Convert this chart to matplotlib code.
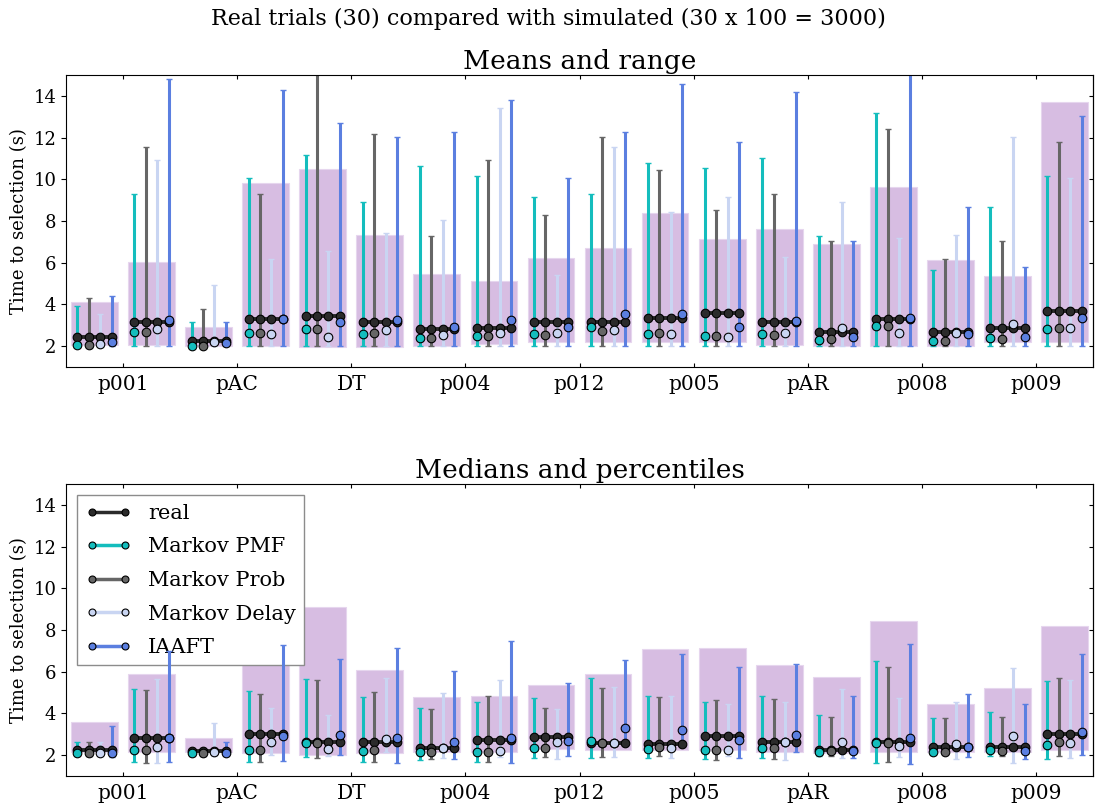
import matplotlib
matplotlib.use("Agg")
import matplotlib.pyplot as plt
from matplotlib.lines import Line2D
import numpy as np

plt.rcParams["font.family"] = ["DejaVu Serif"]

PARTICIPANTS = ["p001", "pAC", "DT", "p004", "p012", "p005", "pAR", "p008", "p009"]

# group order: participant x (left condition, right condition)
# --- means and range ---
mean_real = [2.42, 3.14, 2.26, 3.28, 3.44, 3.17, 2.82, 2.86, 3.14, 3.14, 3.36, 3.57, 3.14, 2.66, 3.31, 2.66, 2.88, 3.68]
mean_real_lo = [2.05, 2.05, 2.03, 2.03, 1.97, 1.97, 2.03, 2.10, 2.18, 2.21, 2.21, 2.21, 2.05, 2.00, 2.03, 2.00, 2.21, 2.21]
mean_real_hi = [4.13, 6.05, 2.93, 9.81, 10.50, 7.31, 5.44, 5.12, 6.24, 6.69, 8.37, 7.12, 7.62, 6.88, 9.63, 6.13, 5.36, 13.70]

mean_pmf = [2.06, 2.67, 2.03, 2.61, 2.83, 2.58, 2.40, 2.50, 2.58, 2.90, 2.56, 2.50, 2.58, 2.29, 2.98, 2.24, 2.40, 2.80]
mean_pmf_lo = [2.0, 2.0, 2.0, 2.0, 2.0, 2.0, 2.0, 2.0, 2.0, 2.0, 2.0, 2.0, 2.0, 2.0, 2.0, 2.0, 2.0, 2.0]
mean_pmf_hi = [3.92, 9.30, 3.15, 10.05, 11.17, 8.91, 10.66, 10.16, 9.17, 9.30, 10.80, 10.53, 11.04, 7.30, 13.17, 5.66, 8.67, 10.16]

mean_prob = [2.05, 2.69, 2.03, 2.61, 2.83, 2.64, 2.37, 2.50, 2.53, 2.72, 2.61, 2.51, 2.53, 2.32, 2.99, 2.24, 2.34, 2.85]
mean_prob_lo = [2.0, 2.0, 2.0, 2.0, 2.0, 2.0, 2.0, 2.0, 2.0, 2.0, 2.0, 2.0, 2.0, 2.0, 2.0, 2.0, 2.0, 2.0]
mean_prob_hi = [4.29, 11.55, 3.79, 9.30, 15.50, 12.18, 7.30, 10.93, 8.29, 12.05, 10.45, 8.53, 9.30, 7.04, 12.43, 6.16, 7.04, 11.81]

mean_delay = [2.10, 2.82, 2.21, 2.58, 2.42, 2.77, 2.53, 2.61, 2.61, 2.77, 2.56, 2.45, 2.61, 2.85, 2.61, 2.62, 3.06, 2.85]
mean_delay_lo = [2.0, 2.0, 2.0, 2.0, 2.0, 2.0, 2.0, 2.0, 2.0, 2.0, 2.0, 2.0, 2.0, 2.0, 2.0, 2.0, 2.0, 2.0]
mean_delay_hi = [3.54, 10.93, 4.91, 6.16, 6.54, 7.41, 8.03, 13.42, 5.42, 11.54, 8.42, 9.17, 6.29, 8.91, 7.17, 7.31, 12.05, 10.05]

mean_iaaft = [2.19, 3.25, 2.13, 3.28, 3.15, 3.25, 2.91, 3.26, 2.90, 3.52, 3.52, 2.93, 3.23, 2.42, 3.33, 2.56, 2.43, 3.36]
mean_iaaft_lo = [2.0, 2.0, 2.0, 2.0, 2.0, 2.0, 2.0, 2.0, 2.0, 2.0, 2.0, 2.0, 2.0, 2.0, 2.0, 2.0, 2.0, 2.0]
mean_iaaft_hi = [4.42, 14.80, 3.15, 14.29, 12.69, 12.05, 12.29, 13.81, 10.05, 12.29, 14.56, 11.79, 14.18, 7.04, 15.30, 8.67, 5.78, 13.06]

# --- medians and percentiles ---
med_real = [2.26, 2.83, 2.21, 3.00, 2.61, 2.64, 2.32, 2.72, 2.88, 2.56, 2.53, 2.93, 2.64, 2.24, 2.65, 2.37, 2.37, 3.01]
med_real_lo = [2.16, 2.16, 2.13, 2.10, 2.03, 2.10, 2.16, 2.16, 2.29, 2.26, 2.26, 2.26, 2.13, 2.10, 2.13, 2.13, 2.13, 2.26]
med_real_hi = [3.57, 5.87, 2.80, 6.36, 9.12, 6.07, 4.78, 4.83, 5.37, 5.90, 7.08, 7.14, 6.33, 5.77, 8.42, 4.43, 5.23, 8.17]

med_pmf = [2.08, 2.26, 2.08, 2.26, 2.56, 2.21, 2.13, 2.13, 2.35, 2.67, 2.29, 2.24, 2.32, 2.16, 2.56, 2.16, 2.26, 2.51]
med_pmf_lo = [1.97, 1.65, 1.95, 1.65, 1.89, 1.68, 1.78, 1.68, 1.84, 1.84, 1.84, 1.81, 1.84, 1.94, 1.62, 2.00, 1.97, 1.81]
med_pmf_hi = [2.65, 5.16, 2.25, 5.07, 5.64, 4.81, 4.28, 4.57, 4.72, 5.72, 4.84, 4.57, 4.84, 3.93, 6.50, 3.76, 4.09, 5.56]

med_prob = [2.08, 2.26, 2.08, 2.26, 2.58, 2.24, 2.13, 2.13, 2.35, 2.56, 2.40, 2.24, 2.32, 2.21, 2.56, 2.16, 2.21, 2.61]
med_prob_lo = [1.97, 1.62, 1.95, 1.68, 1.84, 1.65, 1.81, 1.68, 1.92, 1.89, 1.94, 1.78, 1.81, 1.94, 1.65, 2.05, 1.97, 1.94]
med_prob_hi = [2.65, 5.13, 2.25, 4.94, 5.61, 5.05, 4.20, 4.83, 4.27, 5.24, 4.78, 4.65, 4.68, 3.85, 6.25, 3.76, 3.84, 5.69]

med_delay = [2.08, 2.38, 2.13, 2.61, 2.29, 2.77, 2.35, 2.19, 2.64, 2.58, 2.35, 2.24, 2.61, 2.65, 2.45, 2.53, 2.93, 2.58]
med_delay_lo = [1.97, 1.60, 1.94, 2.00, 1.94, 2.13, 1.84, 1.89, 1.81, 1.89, 1.87, 1.97, 1.78, 1.84, 1.92, 1.81, 1.60, 1.87]
med_delay_hi = [2.61, 5.63, 3.52, 4.24, 3.93, 5.72, 4.97, 5.58, 4.20, 5.27, 4.84, 4.43, 4.56, 5.19, 4.76, 4.57, 6.20, 5.61]

med_iaaft = [2.08, 2.83, 2.08, 2.93, 2.96, 2.80, 2.61, 2.80, 2.69, 3.28, 3.21, 2.72, 2.99, 2.21, 2.81, 2.37, 2.21, 3.12]
med_iaaft_lo = [1.89, 1.65, 1.94, 1.73, 2.00, 1.62, 1.81, 1.60, 1.94, 2.50, 2.53, 1.84, 2.13, 1.84, 1.57, 1.92, 1.81, 2.00]
med_iaaft_hi = [3.41, 7.00, 2.64, 7.27, 6.63, 7.13, 6.04, 7.46, 5.45, 6.55, 6.87, 6.23, 6.39, 4.83, 7.34, 4.92, 4.43, 6.87]

SIM_NAMES = ["Markov PMF", "Markov Prob", "Markov Delay", "IAAFT"]
SIM_COLORS = ["#14bdbd", "#666666", "#c9d5f2", "#5b7fe0"]
REAL_COLOR = "#2b2b2b"
BAR_COLOR = "#d7bde2"


def teken_paneel(ax, real, real_lo, real_hi, sims, titel):
    gx = []
    for i in range(len(PARTICIPANTS)):
        gx += [i - 0.25, i + 0.25]
    gx = np.array(gx)
    offs = [-0.15, -0.05, 0.05, 0.15]

    real_lo = np.array(real_lo)
    ax.bar(gx, np.array(real_hi) - real_lo, bottom=real_lo, width=0.41,
           color=BAR_COLOR, edgecolor="#e6d6ee", linewidth=0.8, zorder=1)

    for (c, lo, hi), kleur, off in zip(sims, SIM_COLORS, offs):
        c, lo, hi = np.array(c), np.array(lo), np.array(hi)
        ax.errorbar(gx + off, c, yerr=[c - lo, hi - c], fmt="none", ecolor=kleur,
                    elinewidth=2.2, capsize=2.5, capthick=1.0, zorder=2)

    for x, v in zip(gx, real):
        xs = x + np.array(offs)
        ax.plot(xs, [v] * 4, color=REAL_COLOR, lw=2.8, marker="o", ms=6.2,
                mfc=REAL_COLOR, mec="black", mew=0.8, zorder=3)

    for (c, lo, hi), kleur, off in zip(sims, SIM_COLORS, offs):
        ax.plot(gx + off, c, "o", ms=6.2, mfc=kleur, mec="black", mew=0.8,
                linestyle="none", zorder=4)

    ax.set_xlim(-0.5, len(PARTICIPANTS) - 0.5)
    ax.set_ylim(1, 15)
    ax.set_xticks(np.arange(len(PARTICIPANTS)))
    ax.set_xticklabels(PARTICIPANTS, fontsize=14.5)
    ax.set_yticks([2, 4, 6, 8, 10, 12, 14])
    ax.tick_params(axis="y", direction="out", length=3.5, labelsize=13, right=False)
    ax.tick_params(axis="x", direction="in", length=3, top=True, pad=6)
    rechts = ax.secondary_yaxis("right")
    rechts.set_yticks([2, 4, 6, 8, 10, 12, 14])
    rechts.tick_params(direction="in", length=3, labelright=False)
    ax.set_ylabel("Time to selection (s)", fontsize=13)
    ax.set_title(titel, fontsize=19, pad=4)


fig = plt.figure(figsize=(10.96, 8.07), dpi=100)
ax1 = fig.add_axes([0.0602, 0.5452, 0.9371, 0.3618])
ax2 = fig.add_axes([0.0602, 0.0384, 0.9371, 0.3618])

teken_paneel(ax1, mean_real, mean_real_lo, mean_real_hi, [
    (mean_pmf, mean_pmf_lo, mean_pmf_hi),
    (mean_prob, mean_prob_lo, mean_prob_hi),
    (mean_delay, mean_delay_lo, mean_delay_hi),
    (mean_iaaft, mean_iaaft_lo, mean_iaaft_hi),
], "Means and range")

teken_paneel(ax2, med_real, med_real_lo, med_real_hi, [
    (med_pmf, med_pmf_lo, med_pmf_hi),
    (med_prob, med_prob_lo, med_prob_hi),
    (med_delay, med_delay_lo, med_delay_hi),
    (med_iaaft, med_iaaft_lo, med_iaaft_hi),
], "Medians and percentiles")

handles = [Line2D([], [], color=REAL_COLOR, lw=2.5, marker="o", ms=5,
                  mfc=REAL_COLOR, mec="black", mew=0.8)]
for naam, kleur in zip(SIM_NAMES, SIM_COLORS):
    handles.append(Line2D([], [], color=kleur, lw=2.5, marker="o", ms=5,
                          mfc=kleur, mec="black", mew=0.8))
leg = ax2.legend(handles, ["real"] + SIM_NAMES, loc="upper left", fontsize=15,
                 numpoints=2, fancybox=False, framealpha=1, edgecolor="#8c8c8c",
                 borderaxespad=0.55, handlelength=2.2, labelspacing=0.7)
leg.set_zorder(1.5)

fig.suptitle("Real trials (30) compared with simulated (30 x 100 = 3000)",
             fontsize=16, y=0.99)

fig.savefig("out.png", dpi=100)
